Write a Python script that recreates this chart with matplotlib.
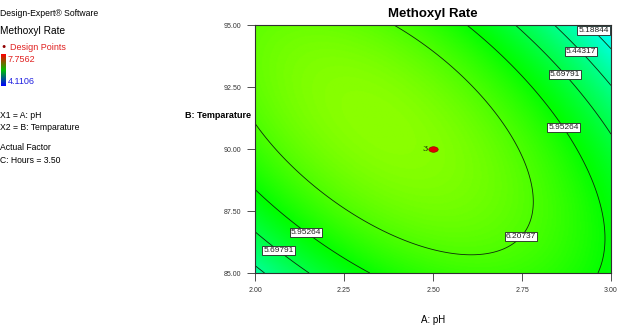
import numpy as np
import matplotlib
matplotlib.use("Agg")
import matplotlib.pyplot as plt
from matplotlib.colors import LinearSegmentedColormap
from matplotlib.markers import MarkerStyle
from matplotlib.transforms import Affine2D

plt.rcParams["font.family"] = ["Liberation Sans", "DejaVu Sans"]

# quadratic model in coded units (A: pH, B: temperature)
b0, bA, bB, bAB, bAA, bBB = 6.403, -0.186, -0.007, -0.449, -0.460, -0.306
ph_lo, ph_hi = 2.0, 3.0
t_lo, t_hi = 85.0, 95.0

levels = [5.18844, 5.44317, 5.69791, 5.95264, 6.20737]
y_lo, y_hi = 4.1106, 7.7562

design_ph = [2.5]
design_t = [90.0]
design_n = ["3"]

x_ticks = [2.0, 2.25, 2.5, 2.75, 3.0]
x_ticklabels = ["2.00", "2.25", "2.50", "2.75", "3.00"]
y_ticks = [85.0, 87.5, 90.0, 92.5, 95.0]
y_ticklabels = ["85.00", "87.50", "90.00", "92.50", "95.00"]

# where the contour labels sit (pH, temperature)
label_pos = [(2.949, 94.76), (2.913, 93.91), (2.876, 93.06), (2.874, 90.93),
             (2.750, 86.41), (2.149, 86.73), (2.076, 86.09)]

de_cmap = LinearSegmentedColormap.from_list(
    "de", ["#0000ff", "#00ffff", "#00ff00", "#ffff00", "#ff0000"])

fig = plt.figure(figsize=(6.22, 3.26), dpi=100)
ax = fig.add_axes([255 / 622, 1 - 273 / 326, 356 / 622, 248 / 326])

ph = np.linspace(ph_lo, ph_hi, 300)
tmp = np.linspace(t_lo, t_hi, 300)
PH, TT = np.meshgrid(ph, tmp)
A = (PH - 2.5) / 0.5
B = (TT - 90.0) / 5.0
Z = b0 + bA * A + bB * B + bAB * A * B + bAA * A * A + bBB * B * B

ax.imshow(Z, origin="lower", extent=[ph_lo, ph_hi, t_lo, t_hi], aspect="auto",
          cmap=de_cmap, vmin=y_lo, vmax=y_hi, interpolation="bilinear")
cs = ax.contour(PH, TT, Z, levels=levels, colors="#0c2a0c", linewidths=0.6)
lbls = ax.clabel(cs, fmt="%.5f", fontsize=6, inline=False, manual=label_pos)
for t in lbls:
    t.set_rotation(0)
    t.set_color("#222222")
    t.set_bbox(dict(boxstyle="square,pad=0.12", fc="white", ec="#222222", lw=0.6))

oval = MarkerStyle("o", transform=Affine2D().scale(1.7, 1.0))
ax.plot(design_ph, design_t, ls="none", marker=oval, ms=4, mfc="#e00000",
        mec="#900000", mew=0.4, zorder=5)
for x, y, n in zip(design_ph, design_t, design_n):
    ax.text(x - 0.016, y, n, fontsize=6, ha="right", va="center",
            color="#102010", family="DejaVu Serif")

ax.set_xlim(ph_lo, ph_hi)
ax.set_ylim(t_lo, t_hi)
ax.set_xticks(x_ticks)
ax.set_xticklabels(x_ticklabels)
ax.set_yticks(y_ticks)
ax.set_yticklabels(y_ticklabels)
ax.tick_params(labelsize=5, colors="#333333", length=6, width=0.6, pad=4)
for s in ax.spines.values():
    s.set_linewidth(0.8)
    s.set_color("#303030")

ax.set_title("Methoxyl Rate", fontsize=9.5, fontweight="bold", pad=6)
ax.set_xlabel("A: pH", fontsize=7, labelpad=15)
fig.text(185 / 622, 1 - 115 / 326, "B: Temparature", fontsize=6.5,
         fontweight="bold", va="center")

# left-hand legend block
fig.text(0, 1 - 13 / 326, "Design-Expert\u00ae Software", fontsize=6.2, va="center")
fig.text(0, 1 - 31 / 326, "Methoxyl Rate", fontsize=7.3, va="center")
fig.text(10 / 622, 1 - 47 / 326, "Design Points", fontsize=6.5, va="center",
         color="#e02020")
fig.text(1 / 622, 1 - 46 / 326, "\u25cf", fontsize=5, va="center", color="#900000")
fig.text(8 / 622, 1 - 59 / 326, "%.4f" % y_hi, fontsize=6.5, va="center",
         color="#e02020")
fig.text(8 / 622, 1 - 81 / 326, "%.4f" % y_lo, fontsize=6.5, va="center",
         color="#2020e0")
cax = fig.add_axes([1 / 622, 1 - 86 / 326, 5 / 622, 32 / 326])
cax.imshow(np.linspace(0, 1, 100).reshape(-1, 1), origin="lower", aspect="auto",
           cmap=LinearSegmentedColormap.from_list("bar", ["#0000ff", "#00c000", "#ff0000"]))
cax.axis("off")
fig.text(0, 1 - 115 / 326, "X1 = A: pH", fontsize=6.2, va="center")
fig.text(0, 1 - 127 / 326, "X2 = B: Temparature", fontsize=6.2, va="center")
fig.text(0, 1 - 148 / 326, "Actual Factor", fontsize=6.2, va="center")
fig.text(0, 1 - 160 / 326, "C: Hours = 3.50", fontsize=6.2, va="center")

plt.savefig("out.png", dpi=100)
